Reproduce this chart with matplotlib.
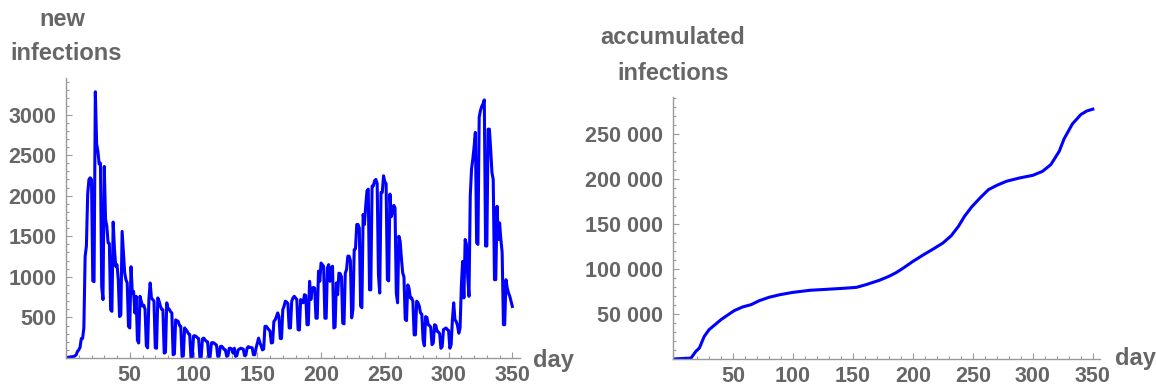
import numpy as np
import matplotlib
matplotlib.use("Agg")
import matplotlib.pyplot as plt
from matplotlib.ticker import MultipleLocator, FuncFormatter

# daily new infections, day 0 .. 350 (one row per week)
new_infections = [
    0, 5, 10, 10, 15, 15, 20,
    25, 40, 80, 100, 130, 240, 240,
    370, 1250, 1380, 2020, 2200, 2220, 2200,
    950, 940, 3280, 2640, 2550, 2390, 2400,
    880, 720, 2360, 1710, 1625, 1420, 1410,
    595, 575, 1675, 1340, 1130, 1150, 965,
    510, 530, 1560, 1300, 1050, 965, 925,
    390, 370, 1125, 800, 820, 555, 760,
    220, 185, 760, 700, 640, 650, 600,
    150, 125, 720, 925, 740, 720, 700,
    125, 120, 740, 700, 640, 600, 595,
    60, 70, 680, 610, 600, 570, 555,
    40, 50, 470, 460, 450, 400, 390,
    20, 25, 370, 350, 330, 300, 290,
    5, 10, 270, 275, 265, 250, 240,
    5, 10, 235, 245, 225, 205, 200,
    10, 15, 185, 190, 185, 170, 160,
    20, 25, 140, 145, 130, 105, 100,
    20, 30, 120, 120, 110, 60, 120,
    20, 30, 100, 110, 120, 115, 110,
    30, 35, 120, 140, 130, 130, 125,
    40, 40, 120, 185, 245, 190, 150,
    100, 110, 390, 390, 370, 350, 330,
    185, 190, 450, 470, 510, 555, 510,
    240, 240, 595, 640, 700, 690, 670,
    370, 370, 700, 740, 760, 740, 720,
    350, 345, 720, 700, 680, 780, 770,
    410, 410, 945, 720, 860, 870, 860,
    490, 490, 1070, 945, 1170, 1150, 1130,
    490, 490, 1110, 1150, 945, 1110, 1130,
    370, 380, 925, 780, 1045, 1040, 1000,
    430, 420, 1045, 1090, 1255, 1255, 1200,
    495, 600, 1335, 1345, 1645, 1645, 1600,
    640, 620, 1770, 1645, 1870, 2060, 2080,
    840, 840, 2120, 2120, 2185, 2200, 2150,
    1025, 800, 2040, 2040, 2245, 2170, 2150,
    965, 950, 2020, 1740, 1790, 1880, 1850,
    800, 680, 1500, 1440, 1230, 1050, 1000,
    475, 460, 900, 860, 740, 740, 700,
    285, 285, 700, 680, 640, 555, 540,
    225, 150, 510, 500, 410, 400, 380,
    165, 185, 410, 400, 330, 320, 300,
    120, 140, 350, 360, 370, 350, 340,
    120, 165, 470, 680, 470, 450, 400,
    305, 370, 880, 1190, 740, 1460, 1400,
    1000, 760, 2000, 2330, 2450, 2600, 2780,
    1420, 1400, 2965, 3050, 3100, 3130, 3180,
    1380, 1380, 2820, 2820, 2570, 2285, 2200,
    965, 965, 1870, 1460, 1665, 1460, 1300,
    410, 410, 965, 860, 800, 760, 700,
    635,
]
new_days = np.arange(len(new_infections))

# accumulated infections
acc_days = [0, 15, 19, 22, 26, 30, 35, 40, 46, 51, 58, 65, 72, 80, 89, 100,
            114, 128, 142, 153, 161, 172, 180, 186, 192, 200, 209, 217, 225,
            232, 238, 243, 249, 256, 263, 270, 278, 289, 300, 308, 315, 322,
            326, 333, 340, 345, 350]
acc_infections = [0, 1000, 8400, 12200, 25000, 32500, 38100, 43700, 49200,
                  53700, 57800, 60300, 64800, 68500, 71400, 74000, 76300,
                  77400, 78500, 79600, 82600, 87400, 91800, 95900, 101000,
                  108400, 115900, 122200, 128800, 137000, 147400, 158400,
                  168900, 178900, 188100, 192900, 197400, 201100, 204000,
                  208400, 215900, 230700, 244400, 261100, 271500, 275500,
                  277500]

TXT = '#666666'
AX = '#9a9a9a'
FONT = 'Liberation Sans'
plt.rcParams['font.family'] = [FONT, 'DejaVu Sans']

fig = plt.figure(figsize=(11.56, 3.89), dpi=100)
W, H = 1156, 389


def make_axes(x0, x1, ytop, ybot):
    return fig.add_axes([x0 / W, 1 - ybot / H, (x1 - x0) / W, (ybot - ytop) / H])


def style(ax, ymajor, yminor, fmt):
    for s in ['top', 'right']:
        ax.spines[s].set_visible(False)
    for s in ['left', 'bottom']:
        ax.spines[s].set_color(AX)
        ax.spines[s].set_linewidth(1.0)
    ax.xaxis.set_major_locator(MultipleLocator(50))
    ax.xaxis.set_minor_locator(MultipleLocator(10))
    ax.yaxis.set_major_locator(MultipleLocator(ymajor))
    ax.yaxis.set_minor_locator(MultipleLocator(yminor))
    ax.xaxis.set_major_formatter(FuncFormatter(lambda v, p: '' if v == 0 else f'{int(v)}'))
    ax.yaxis.set_major_formatter(FuncFormatter(fmt))
    ax.tick_params(which='both', direction='in', color=AX, width=0.8)
    ax.tick_params(which='major', length=4.5)
    ax.tick_params(which='minor', length=2.5)
    ax.tick_params(axis='both', which='major', labelsize=15.5, labelcolor=TXT)
    ax.tick_params(axis='x', pad=5)
    ax.tick_params(axis='y', pad=7)
    for lab in ax.get_xticklabels() + ax.get_yticklabels():
        lab.set_fontweight('bold')


# left: new infections
ax1 = make_axes(66, 520, 78, 358)
ax1.plot(new_days, new_infections, color='#0000ff', lw=2.2)
ax1.set_xlim(0, 356)
ax1.set_ylim(0, 3450)
style(ax1, 500, 100, lambda v, p: '' if v == 0 else f'{int(v)}')

# right: accumulated infections
ax2 = make_axes(673, 1100, 97, 359)
ax2.plot(acc_days, acc_infections, color='#0000ff', lw=2.2)
ax2.set_xlim(0, 356)
ax2.set_ylim(0, 291000)


def thousands(v, p):
    if v == 0:
        return ''
    v = int(v)
    return f'{v // 1000} {v % 1000:03d}' if v >= 1000 else f'{v}'


style(ax2, 50000, 10000, thousands)

lab = dict(color=TXT, fontsize=17, fontweight='bold', va='center')
fig.text(62 / W, 1 - 19 / H, 'new', ha='center', **lab)
fig.text(66 / W, 1 - 53 / H, 'infections', ha='center', **lab)
fig.text(673 / W, 1 - 38 / H, 'accumulated', ha='center', **lab)
fig.text(673 / W, 1 - 73 / H, 'infections', ha='center', **lab)
fig.text(533 / W, 1 - 360 / H, 'day', ha='left', **lab)
fig.text(1115 / W, 1 - 358 / H, 'day', ha='left', **lab)

fig.savefig('out.png', dpi=100)
